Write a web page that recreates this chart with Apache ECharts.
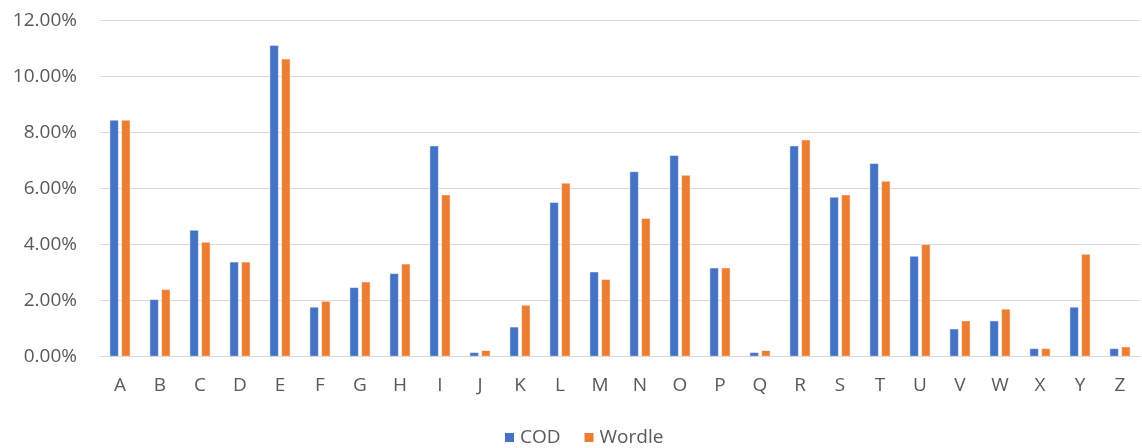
<!DOCTYPE html>
<html>
<head>
<meta charset="utf-8">
<script src="https://cdn.jsdelivr.net/npm/echarts@6/dist/echarts.min.js"></script>
<style>
  html, body { margin: 0; padding: 0; background: #fff; }
  #main { width: 1142px; height: 448px; }
</style>
</head>
<body>
<div id="main"></div>
<script>
var letters = ['A','B','C','D','E','F','G','H','I','J','K','L','M','N','O','P','Q','R','S','T','U','V','W','X','Y','Z'];
// letter frequency, in percent
var cod = [8.45,2.04,4.52,3.38,11.12,1.77,2.47,2.97,7.53,0.15,1.06,5.51,3.03,6.61,7.19,3.17,0.15,7.53,5.70,6.90,3.59,0.99,1.28,0.29,1.77,0.29];
var wordle = [8.45,2.40,4.09,3.38,10.63,1.98,2.67,3.31,5.78,0.22,1.84,6.20,2.76,4.94,6.48,3.17,0.22,7.74,5.78,6.27,4.01,1.28,1.70,0.29,3.66,0.35];

var myChart = echarts.init(document.getElementById('main'));
var font = 'Open Sans, Liberation Sans, sans-serif';
var option = {
  animation: false,
  color: ['#4472C4', '#ED7D31'],
  textStyle: { fontFamily: font },
  legend: {
    data: ['COD', 'Wordle'],
    top: 428,
    left: 503,
    padding: 0,
    itemWidth: 11,
    itemHeight: 11,
    itemGap: 22,
    icon: 'rect',
    textStyle: { color: '#595959', fontSize: 19, fontFamily: font }
  },
  grid: {
    left: 100,
    right: 2,
    top: 20.5,
    bottom: 91.5
  },
  xAxis: {
    type: 'category',
    data: letters,
    axisLine: { lineStyle: { color: '#D9D9D9', width: 1 } },
    axisTick: { show: false },
    axisLabel: { color: '#595959', fontSize: 19, margin: 20, fontFamily: font }
  },
  yAxis: {
    type: 'value',
    min: 0,
    max: 12,
    interval: 2,
    axisLine: { show: false },
    axisTick: { show: false },
    splitLine: { lineStyle: { color: '#D9D9D9', width: 1 } },
    axisLabel: {
      color: '#595959',
      fontSize: 19,
      margin: 23,
      fontFamily: font,
      formatter: function (v) { return v.toFixed(2) + '%'; }
    }
  },
  series: [{
    name: 'COD',
    type: 'bar',
    data: cod,
    barWidth: 9,
    barGap: '30%',
    itemStyle: { borderColor: '#fff', borderWidth: 0.5 }
  }, {
    name: 'Wordle',
    type: 'bar',
    data: wordle,
    barWidth: 9,
    itemStyle: { borderColor: '#fff', borderWidth: 0.5 }
  }]
};
myChart.setOption(option);
</script>
</body>
</html>
